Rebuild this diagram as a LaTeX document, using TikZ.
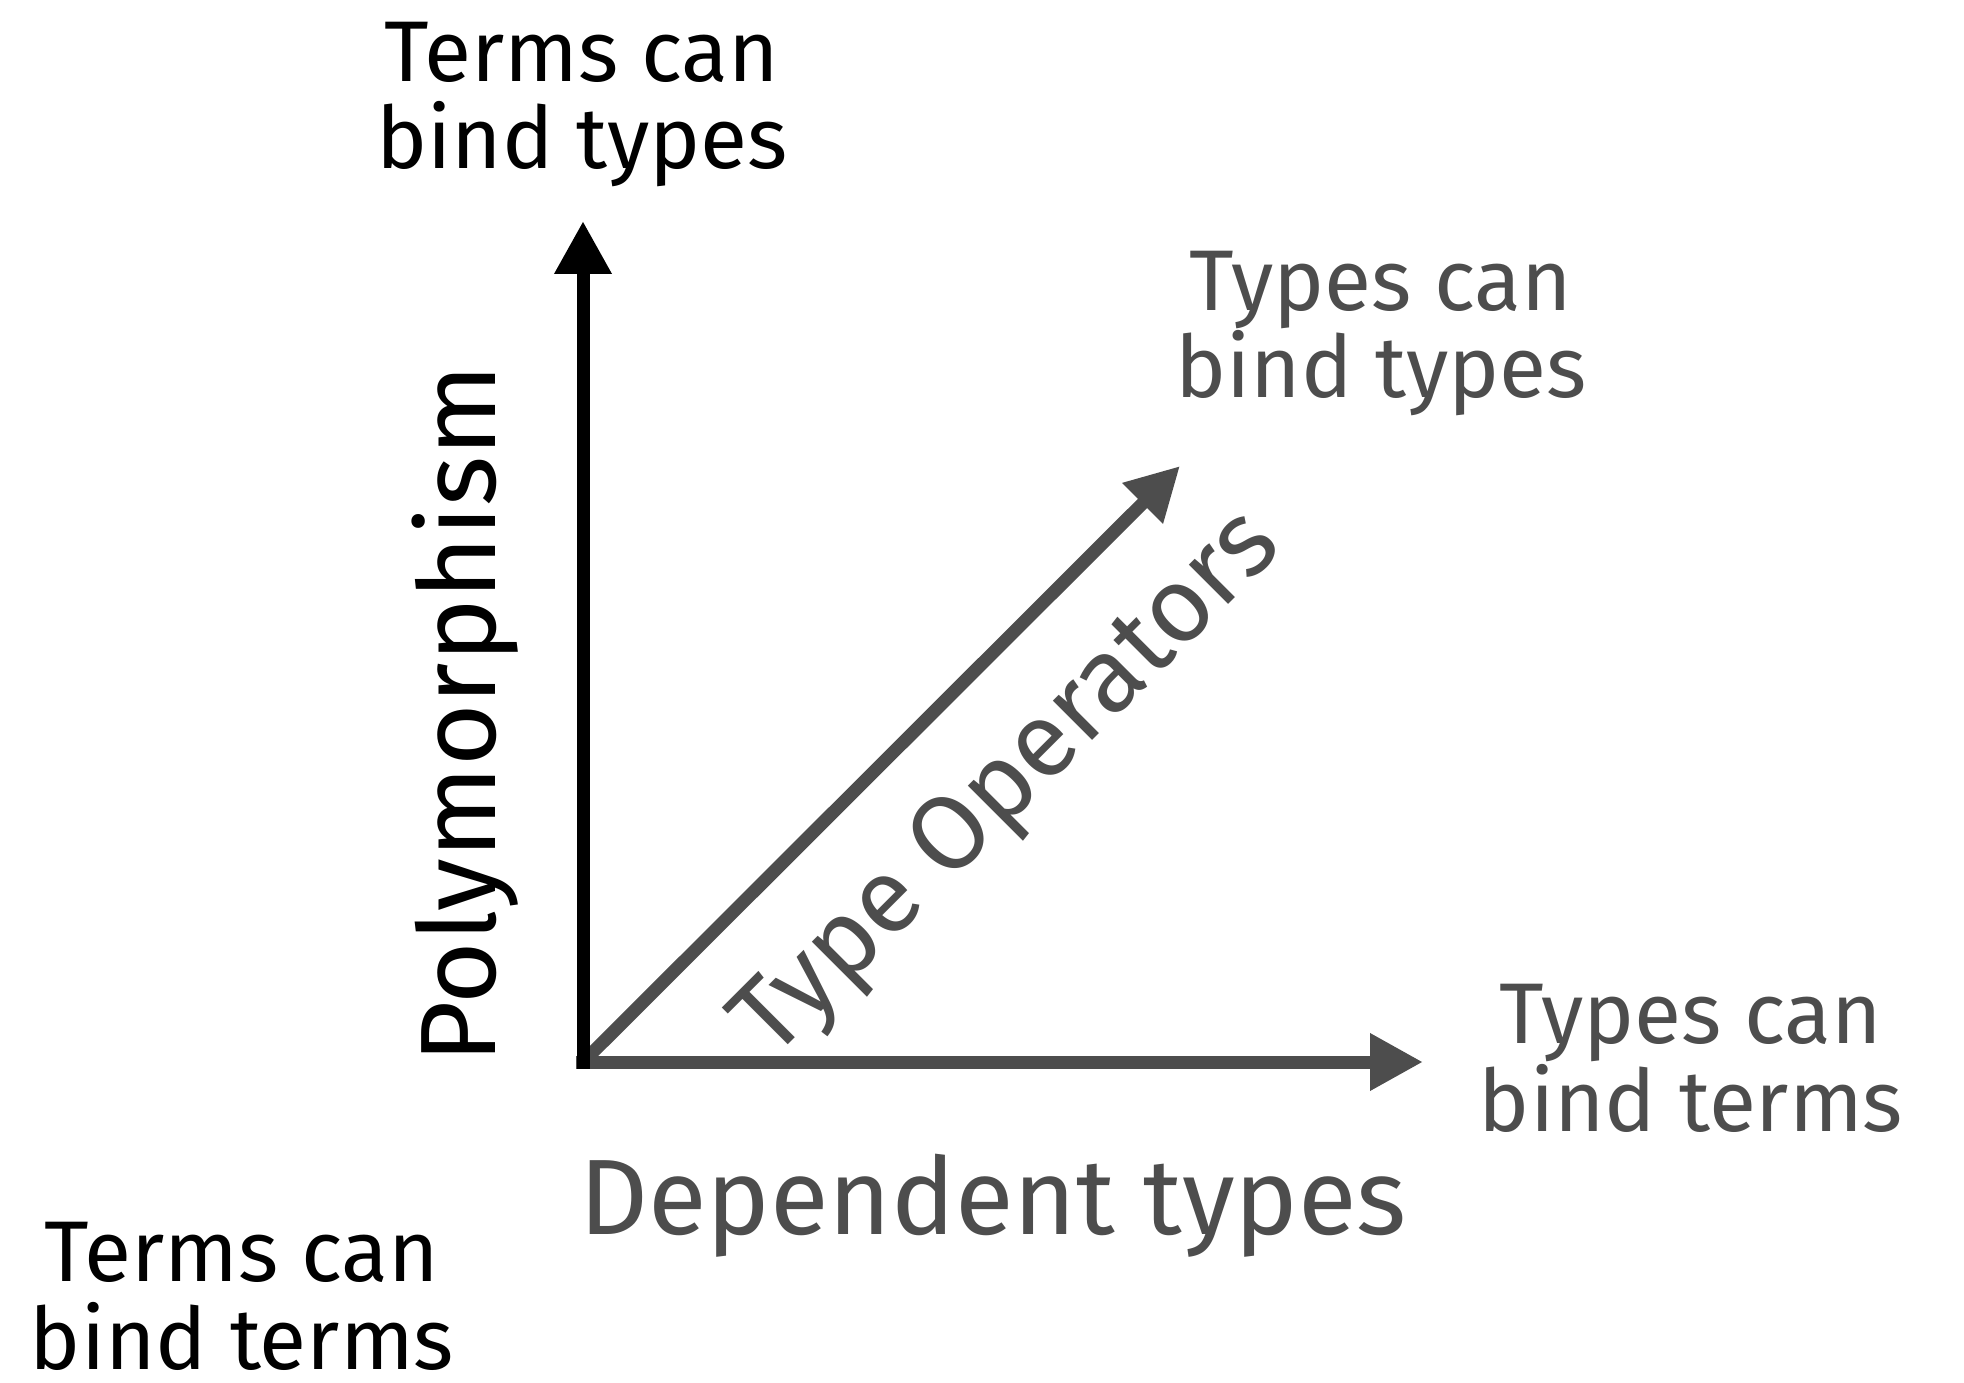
\documentclass[tikz,border=0pt]{standalone}
\usepackage{fontspec}
\setmainfont{Fira Sans}
\usetikzlibrary{arrows.meta}
\definecolor{axisgray}{HTML}{4D4D4D}

\begin{document}
\begin{tikzpicture}[line join=miter,
    corner/.style={align=center, font=\fontsize{24.5}{25}\selectfont, inner sep=0pt, anchor=base},
    big/.style={font=\fontsize{30.5}{33}\selectfont, inner sep=0pt, anchor=base},
    axis/.style={line width=0.13cm, -{Triangle[length=0.53cm, width=0.54cm]}}]
  \useasboundingbox (0,0) rectangle (19.64,13.82);
  % --- axes ----------------------------------------------------
  \coordinate (o) at (5.83,3.20);
  \coordinate (xstart) at (5.76,3.20);
  \coordinate (ystart) at (5.83,3.135);
  \coordinate (xtip) at (14.23,3.20);
  \coordinate (ytip) at (5.83,11.61);
  \coordinate (dtip) at (11.80,9.16);
  \draw[axis, axisgray] (xstart) -- (xtip);
  \draw[axis, axisgray] (o) -- (dtip);
  \draw[axis, black] (ystart) -- (ytip);
  % --- axis names ----------------------------------------------
  \node[big, rotate=90] (poly) at (4.95,6.68) {Polymorphism};
  \node[big, axisgray] (dep) at (9.93,1.48) {Dependent types};
  \node[big, axisgray, font=\fontsize{30}{32}\selectfont, rotate=45] (ops) at (10.28,5.77) {Type Operators};
  % --- corners -------------------------------------------------
  \node[corner] (tt) at (2.42,0.13) {Terms can\\bind terms};
  \node[corner] (tty) at (5.82,12.13) {Terms can\\bind types};
  \node[corner, axisgray] (yty) at (13.81,9.84) {Types can\\bind types};
  \node[corner, axisgray] (ytt) at (16.91,2.51) {Types can\\bind terms};
\end{tikzpicture}
\end{document}
